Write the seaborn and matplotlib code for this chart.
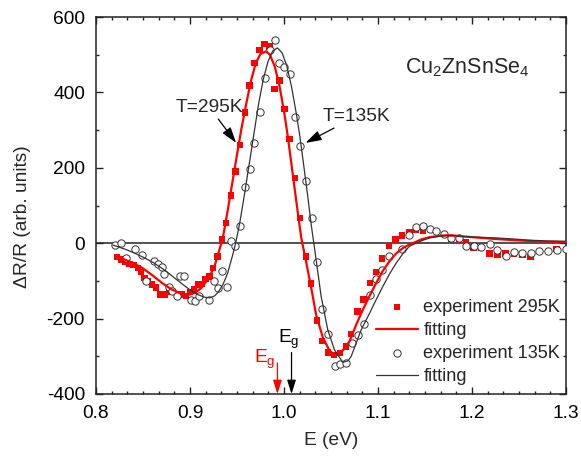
import numpy as np
import pandas as pd
import matplotlib
matplotlib.use("Agg")
import matplotlib.pyplot as plt
from matplotlib.ticker import MultipleLocator, AutoMinorLocator
import seaborn as sns

# ---------------- data ----------------
exp295_E = [0.8225, 0.8268, 0.8310, 0.8355, 0.8400, 0.8445, 0.8480, 0.8515, 0.8555, 0.8595,
            0.8640, 0.8685, 0.8730, 0.8775, 0.8820, 0.8865, 0.8910, 0.8955, 0.9000, 0.9045,
            0.9085, 0.9125, 0.9165, 0.9205, 0.9245, 0.9290, 0.9340, 0.9385, 0.9438, 0.9486,
            0.9534, 0.9587, 0.9633, 0.9686, 0.9740, 0.9793, 0.9846, 0.9899, 0.9952, 1.0005,
            1.0059, 1.0119, 1.0172, 1.0236, 1.0289, 1.0349, 1.0406, 1.0466, 1.0530, 1.0595,
            1.0657, 1.0715, 1.0782, 1.0848, 1.0915, 1.0978, 1.1045, 1.1115, 1.1186, 1.1257,
            1.1335, 1.1406, 1.1477, 1.1779, 1.1860, 1.1938, 1.2017, 1.2098, 1.2187, 1.2270,
            1.2357, 1.2446, 1.2535, 1.2623, 1.2897]
exp295_R = [-36, -43, -48, -55, -58, -66, -76, -92, -100, -110,
            -118, -136, -136, -128, -130, -138, -136, -140, -130, -122,
            -110, -108, -95, -88, -66, -35, 10, 54, 126, 190,
            260, 347, 418, 478, 513, 529, 522, 409, 432, 356,
            277, 173, 67, -35, -107, -205, -259, -290, -296, -291,
            -274, -241, -181, -150, -106, -77, -41, -7, 10, 21,
            29, 36, 34, 12, 10, 3, -12, -13, -28, -30,
            -27, -28, -30, -37, -15]

fit295_E = [0.8230, 0.8300, 0.8400, 0.8500, 0.8600, 0.8700, 0.8800, 0.8900, 0.8980, 0.9050,
            0.9120, 0.9200, 0.9260, 0.9310, 0.9350, 0.9400, 0.9450, 0.9500, 0.9545, 0.9600,
            0.9650, 0.9700, 0.9750, 0.9810, 0.9850, 0.9900, 0.9950, 1.0000, 1.0030, 1.0050,
            1.0100, 1.0150, 1.0183, 1.0236, 1.0289, 1.0342, 1.0413, 1.0484, 1.0537, 1.0608,
            1.0697, 1.0770, 1.0838, 1.0910, 1.0980, 1.1050, 1.1122, 1.1190, 1.1264, 1.1330,
            1.1388, 1.1460, 1.1548, 1.1640, 1.1726, 1.1820, 1.1904, 1.2050, 1.2258, 1.2450,
            1.2613, 1.2800, 1.3000]
fit295_R = [-37, -43, -53, -67, -85, -105, -122, -133, -137, -132,
            -119, -92, -62, -20, 15, 85, 160, 235, 301, 372,
            432, 478, 502, 509, 500, 470, 420, 350, 301, 265,
            170, 75, 15, -50, -118, -190, -250, -285, -296, -290,
            -260, -215, -177, -140, -106, -74, -48, -28, -13, -4,
            2, 10, 16, 19, 21, 20, 18, 15, 11, 8,
            6, 4, 3]

exp135_E = [0.8197, 0.8268, 0.8321, 0.8415, 0.8490, 0.8534, 0.8615, 0.8658, 0.8700, 0.8727,
            0.8772, 0.8806, 0.8858, 0.8890, 0.8935, 0.9013, 0.9048, 0.9100, 0.9207, 0.9250,
            0.9300, 0.9343, 0.9392, 0.9438, 0.9484, 0.9537, 0.9587, 0.9640, 0.9686, 0.9740,
            0.9793, 0.9846, 0.9899, 0.9952, 1.0005, 1.0066, 1.0119, 1.0172, 1.0236, 1.0296,
            1.0349, 1.0406, 1.0473, 1.0544, 1.0598, 1.0658, 1.0721, 1.0785, 1.0849, 1.0917,
            1.0981, 1.1045, 1.1116, 1.1258, 1.1328, 1.1399, 1.1477, 1.1548, 1.1619, 1.1697,
            1.1779, 1.1860, 1.1938, 1.2017, 1.2098, 1.2187, 1.2268, 1.2357, 1.2446, 1.2535,
            1.2623, 1.2712, 1.2808, 1.2907, 1.2996]
exp135_R = [-4, 1, -40, -15, -31, -100, -46, -55, -64, -82,
            -115, -128, -141, -88, -88, -150, -153, -140, -150, -101,
            -120, -75, -115, 5, -8, 46, 149, 198, 266, 348,
            438, 513, 538, 478, 467, 450, 336, 259, 166, 67,
            -50, -175, -240, -327, -320, -318, -266, -243, -214, -138,
            -95, -72, -35, -16, 21, 42, 46, 38, 33, 25,
            14, 14, -8, -8, -9, -2, -19, -35, -24, -26,
            -26, -22, -22, -17, -15]

fit135_E = [0.8180, 0.8300, 0.8400, 0.8500, 0.8600, 0.8700, 0.8800, 0.8900, 0.9000, 0.9080,
            0.9150, 0.9210, 0.9260, 0.9300, 0.9350, 0.9400, 0.9450, 0.9490, 0.9530, 0.9580,
            0.9630, 0.9680, 0.9730, 0.9780, 0.9830, 0.9880, 0.9930, 0.9980, 1.0030, 1.0080,
            1.0130, 1.0165, 1.0200, 1.0250, 1.0289, 1.0342, 1.0395, 1.0466, 1.0537, 1.0626,
            1.0680, 1.0715, 1.0768, 1.0821, 1.0910, 1.0980, 1.1051, 1.1122, 1.1193, 1.1264,
            1.1335, 1.1406, 1.1480, 1.1548, 1.1640, 1.1726, 1.1820, 1.1904, 1.2050, 1.2258,
            1.2450, 1.2613, 1.2800, 1.3000]
fit135_R = [-5, -15, -25, -37, -50, -66, -85, -105, -124, -136,
            -143, -145, -140, -130, -110, -80, -35, 5, 55, 130,
            210, 290, 370, 435, 482, 510, 518, 505, 470, 415,
            345, 290, 225, 130, 50, -44, -141, -230, -283, -316,
            -312, -300, -265, -230, -186, -150, -115, -82, -53, -28,
            -8, 0, 8, 14, 18, 20, 20, 18, 16, 14,
            11, 8, 6, 5]

legend_labels = ["experiment 295K", "fitting", "experiment 135K", "fitting"]
x_ticks = [0.8, 0.9, 1.0, 1.1, 1.2, 1.3]
y_ticks = [-400, -200, 0, 200, 400, 600]
Eg_295 = 0.993
Eg_135 = 1.008

# ---------------- style ----------------
sns.set_theme(style="ticks")
plt.rcParams["font.family"] = ["Liberation Sans", "DejaVu Sans"]
plt.rcParams["mathtext.fontset"] = "custom"
plt.rcParams["mathtext.rm"] = "Liberation Sans"
plt.rcParams["axes.unicode_minus"] = False

FS = 13.8
fig = plt.figure(figsize=(5.81, 4.58), dpi=100)
ax = fig.add_axes([96 / 581, 1 - 394 / 458, 470 / 581, 377 / 458])

ax.axhline(0, color="#222222", lw=1.1, zorder=1)

d_e295 = pd.DataFrame({"E": exp295_E, "R": exp295_R})
d_f295 = pd.DataFrame({"E": fit295_E, "R": fit295_R})
d_e135 = pd.DataFrame({"E": exp135_E, "R": exp135_R})
d_f135 = pd.DataFrame({"E": fit135_E, "R": fit135_R})

sns.scatterplot(data=d_e295, x="E", y="R", ax=ax, marker="s", s=22, color="#ff0000",
                edgecolor="none", label=legend_labels[0], zorder=3)
sns.lineplot(data=d_f295, x="E", y="R", ax=ax, color="#ff0000", lw=1.6, sort=False,
             estimator=None, label=legend_labels[1], zorder=4)
sns.scatterplot(data=d_e135, x="E", y="R", ax=ax, marker="o", s=28, facecolor="white",
                edgecolor="#333333", linewidth=0.7, label=legend_labels[2], zorder=3)
sns.lineplot(data=d_f135, x="E", y="R", ax=ax, color="#333333", lw=0.9, sort=False,
             estimator=None, label=legend_labels[3], zorder=4)

ax.set_xlim(0.8, 1.3)
ax.set_ylim(-400, 600)
ax.set_xticks(x_ticks)
ax.set_yticks(y_ticks)
ax.set_xticklabels([f"{v:.1f}" for v in x_ticks])
ax.set_yticklabels([f"{v:d}" for v in y_ticks])
ax.xaxis.set_minor_locator(AutoMinorLocator(6))
ax.yaxis.set_minor_locator(AutoMinorLocator(2))
ax.tick_params(which="both", direction="in", top=True, right=True, colors="#222222",
               labelcolor="black", labelsize=FS)
ax.tick_params(which="major", length=5, width=1, pad=8)
ax.tick_params(which="minor", length=2.5, width=1)
for sp in ax.spines.values():
    sp.set_linewidth(1.1)
    sp.set_color("#222222")

ax.set_xlabel("E (eV)", fontsize=FS, labelpad=7)
ax.set_ylabel("\u0394R/R (arb. units)", fontsize=FS)
ax.yaxis.set_label_coords(-0.138, 0.47)

# annotations
arr = dict(arrowstyle="-|>,head_length=0.7,head_width=0.22", color="black", lw=0.9,
           shrinkA=0, shrinkB=0)
ax.annotate("T=295K", xy=(0.9491, 266), xytext=(0.9207, 338), arrowprops=arr,
            fontsize=FS, ha="center", va="bottom")
ax.annotate("T=135K", xy=(1.0229, 266), xytext=(1.0413, 314), arrowprops=arr,
            fontsize=FS, ha="left", va="bottom")
ax.text(1.1282, 451, "Cu$_\\mathregular{2}$ZnSnSe$_\\mathregular{4}$", fontsize=15.5,
        ha="left", va="baseline")

arr_r = dict(arr, color="#ff0000")
ax.annotate("", xy=(Eg_295, -400), xytext=(Eg_295, -318), arrowprops=arr_r)
ax.annotate("", xy=(Eg_135, -400), xytext=(Eg_135, -290), arrowprops=arr)
ax.text(0.9676, -318, "E$_\\mathregular{g}$", color="#ff0000", fontsize=FS,
        ha="left", va="baseline")
ax.text(0.9941, -263, "E$_\\mathregular{g}$", color="black", fontsize=FS,
        ha="left", va="baseline")

leg = ax.legend(loc="upper left", bbox_to_anchor=(0.596, 0.252), frameon=False,
                fontsize=13.1, borderpad=0, borderaxespad=0, handlelength=2.3,
                handletextpad=0.3, labelspacing=0.33, markerscale=1.0)

fig.savefig("out.png", dpi=100)
